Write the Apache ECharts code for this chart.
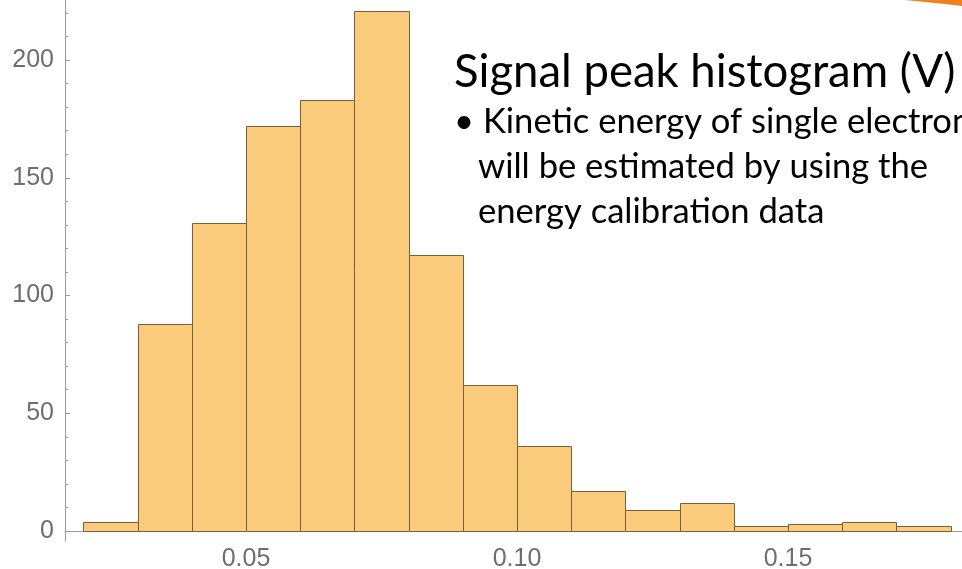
<!DOCTYPE html>
<html>
<head>
<meta charset="utf-8">
<script src="https://cdn.jsdelivr.net/npm/echarts@6/dist/echarts.min.js"></script>
<style>
html,body{margin:0;padding:0;background:#fff;}
#chart{width:962px;height:569px;}
</style>
</head>
<body>
<div id="chart"></div>
<script>
// Histogram bin edges (V) and counts
const binEdges = [0.02, 0.03, 0.04, 0.05, 0.06, 0.07, 0.08, 0.09, 0.10, 0.11, 0.12, 0.13, 0.14, 0.15, 0.16, 0.17, 0.18];
const counts = [4, 88, 131, 172, 183, 221, 117, 62, 36, 17, 9, 12, 2, 3, 4, 2];
const xTickValues = [0.05, 0.10, 0.15];
const yTickValues = [0, 50, 100, 150, 200];
const yMinorTickValues = [10, 20, 30, 40, 60, 70, 80, 90, 110, 120, 130, 140, 160, 170, 180, 190, 210, 220];
const titleText = 'Signal peak histogram (V)';
const bulletLines = ['\u2022 Kinetic energy of single electron', 'will be estimated by using the', 'energy calibration data'];

const data = counts.map((c, i) => [binEdges[i], binEdges[i + 1], c]);

const chart = echarts.init(document.getElementById('chart'), null, {renderer: 'canvas'});
const axisGray = '#9a9a9a';
const labelGray = '#6e6e6e';

chart.setOption({
  animation: false,
  backgroundColor: '#ffffff',
  grid: {left: 65, right: 0, top: 0, bottom: 28, containLabel: false, outerBoundsMode: 'none'},
  xAxis: {
    type: 'value', min: 0.0166, max: 0.1821,
    axisLine: {show: true, onZero: true, lineStyle: {color: axisGray, width: 1}},
    axisTick: {show: false},
    splitLine: {show: false},
    axisLabel: {
      customValues: xTickValues,
      formatter: v => v.toFixed(2),
      color: labelGray, fontSize: 25, fontFamily: 'Liberation Sans, Arial, sans-serif',
      margin: 6
    }
  },
  yAxis: [{
    type: 'value', min: -4.25, max: 225.5,
    axisLine: {show: true, lineStyle: {color: axisGray, width: 1}},
    axisTick: {show: true, inside: true, length: 5, customValues: yTickValues, lineStyle: {color: axisGray}},
    splitLine: {show: false},
    axisLabel: {
      customValues: yTickValues,
      color: labelGray, fontSize: 25, fontFamily: 'Liberation Sans, Arial, sans-serif',
      margin: 11
    }
  }, {
    type: 'value', min: -4.25, max: 225.5, position: 'left',
    axisLine: {show: false},
    axisTick: {show: true, inside: true, length: 3, customValues: yMinorTickValues, lineStyle: {color: axisGray}},
    splitLine: {show: false},
    axisLabel: {show: false}
  }],
  series: [{
    type: 'custom',
    xAxisIndex: 0, yAxisIndex: 0,
    data: data,
    encode: {x: [0, 1], y: 2},
    renderItem: function (params, api) {
      const p0 = api.coord([api.value(0), api.value(2)]);
      const p1 = api.coord([api.value(1), 0]);
      const x0 = Math.round(p0[0]) + 0.5, x1 = Math.round(p1[0]) + 0.5;
      const y0 = Math.round(p0[1]) + 0.5, y1 = Math.round(p1[1]) + 0.5;
      return {
        type: 'rect',
        shape: {x: x0, y: y0, width: x1 - x0, height: y1 - y0},
        style: {fill: '#fbcb7c', stroke: '#76603f', lineWidth: 1}
      };
    }
  }],
  graphic: [
    {type: 'polygon', shape: {points: [[905, 0], [962, 0], [962, 6], [945, 4], [925, 2]]}, style: {fill: '#f07f1c'}, silent: true},
    {type: 'text', left: 454, top: 49, style: {text: titleText, fontSize: 45.5, fontFamily: 'Lato, sans-serif', fill: '#000'}},
    {type: 'text', left: 454, top: 104, style: {text: bulletLines[0], fontSize: 34.6, fontFamily: 'Lato, sans-serif', fill: '#000'}},
    {type: 'text', left: 478, top: 149, style: {text: bulletLines[1], fontSize: 34.6, fontFamily: 'Lato, sans-serif', fill: '#000'}},
    {type: 'text', left: 478, top: 194, style: {text: bulletLines[2], fontSize: 34.6, fontFamily: 'Lato, sans-serif', fill: '#000'}}
  ]
});
</script>
</body>
</html>
